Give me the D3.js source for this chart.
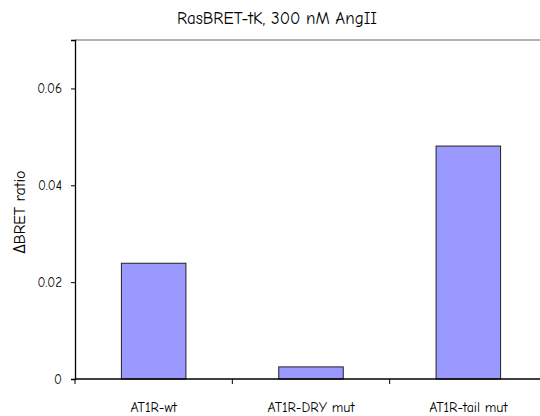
<!DOCTYPE html>
<html lang="en">
<head>
<meta charset="utf-8">
<title>RasBRET-tK, 300 nM AngII</title>
<script src="https://cdn.jsdelivr.net/npm/d3@7"></script>
<style>
  body { margin: 0; background: #fff; }
  text { font-family: "Comic Sans MS", "Comic Neue", "Open Sans", sans-serif; fill: #000; }
</style>
</head>
<body>
<script>
// data
var categories = ["AT1R-wt", "AT1R-DRY mut", "AT1R-tail mut"];
var values = [0.0239, 0.0025, 0.0481];
var yTicks = [0, 0.02, 0.04, 0.06];

var w = 540, h = 416;
// note: "top" is a reserved window property, so use prefixed names
var plotLeft = 75, plotRight = 547, plotTop = 40, plotBottom = 379;

var svg = d3.select("body").append("svg")
  .attr("width", w)
  .attr("height", h);

var x = d3.scaleBand()
  .domain(categories)
  .range([plotLeft, plotRight]);

var y = d3.scaleLinear()
  .domain([0, 0.07])
  .range([plotBottom, plotTop]);

var barW = x.bandwidth() * 0.41;

// top border of plot area
svg.append("line")
  .attr("x1", plotLeft).attr("x2", w)
  .attr("y1", plotTop).attr("y2", plotTop)
  .attr("stroke", "#999").attr("stroke-width", 1.5);

// bars
svg.selectAll("rect.bar")
  .data(values)
  .enter()
  .append("rect")
  .attr("class", "bar")
  .attr("x", function(d, i) { return x(categories[i]) + (x.bandwidth() - barW) / 2; })
  .attr("y", function(d) { return y(d); })
  .attr("width", barW)
  .attr("height", function(d) { return plotBottom - y(d); })
  .attr("fill", "#9999ff")
  .attr("stroke", "#222")
  .attr("stroke-width", 1);

// y axis
var yAxis = d3.axisLeft(y)
  .tickValues(yTicks)
  .tickSize(4)
  .tickPadding(9)
  .tickFormat(function(d) { return d === 0 ? "0" : d3.format(".2f")(d); });

var gy = svg.append("g")
  .attr("transform", "translate(" + plotLeft + ",0)")
  .call(yAxis);
gy.attr("font-family", null).attr("font-size", null);
gy.select(".domain").attr("stroke", "#000").attr("stroke-width", 1.3);
gy.selectAll("text").attr("font-size", 13);

// x axis: line + ticks at category boundaries
svg.append("line")
  .attr("x1", plotLeft).attr("x2", w)
  .attr("y1", plotBottom).attr("y2", plotBottom)
  .attr("stroke", "#000").attr("stroke-width", 1.3);

svg.selectAll("line.xtick")
  .data(categories)
  .enter()
  .append("line")
  .attr("class", "xtick")
  .attr("x1", function(d) { return x(d); })
  .attr("x2", function(d) { return x(d); })
  .attr("y1", plotBottom)
  .attr("y2", plotBottom + 5)
  .attr("stroke", "#000");

svg.selectAll("text.xlabel")
  .data(categories)
  .enter()
  .append("text")
  .attr("class", "xlabel")
  .attr("x", function(d) { return x(d) + x.bandwidth() / 2; })
  .attr("y", 412)
  .attr("text-anchor", "middle")
  .attr("font-size", 14)
  .text(function(d) { return d; });

// title
svg.append("text")
  .attr("x", 277)
  .attr("y", 24)
  .attr("text-anchor", "middle")
  .attr("font-size", 17)
  .text("RasBRET-tK, 300 nM AngII");

// y label
svg.append("text")
  .attr("transform", "translate(25,212) rotate(-90)")
  .attr("text-anchor", "middle")
  .attr("font-size", 16)
  .text("\u0394BRET ratio");
</script>
</body>
</html>
